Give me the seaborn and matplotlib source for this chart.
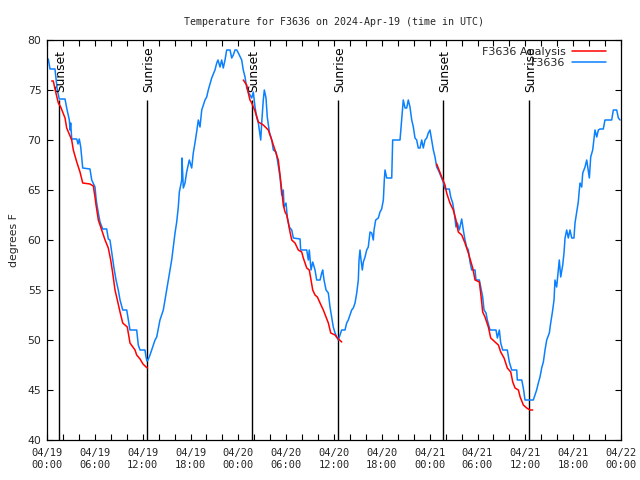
import numpy as np
import pandas as pd
import matplotlib
matplotlib.use("Agg")
import matplotlib.pyplot as plt
import matplotlib.dates as mdates
from matplotlib.lines import Line2D
import seaborn as sns

# ---------------- data (hours after 2024-04-19 00:00 UTC, degrees F) -------------
obs_hours = [0.16, 0.38, 1.00, 1.13, 1.29, 1.54, 2.26, 2.47, 2.80, 2.89, 2.97, 3.10, 3.73, 3.89,
             4.05, 4.23, 4.35, 4.48, 5.39, 5.61, 6.02, 6.15, 6.23, 6.44, 6.65, 6.99, 7.49, 7.69,
             7.90, 8.12, 8.40, 8.66, 8.94, 9.16, 9.50, 10.0, 10.2, 10.41, 11.25, 11.45, 11.67,
             12.29, 12.42, 12.54, 12.67, 12.92, 13.13, 13.55, 13.76, 14.17, 14.59, 14.80, 15.22,
             15.64, 15.84, 16.06, 16.27, 16.47, 16.60, 16.90, 16.93, 17.10, 17.31, 17.52, 17.85,
             18.15, 18.35, 18.56, 18.77, 18.98, 19.19, 19.41, 19.82, 20.03, 20.23, 20.66, 21.07,
             21.29, 21.45, 21.70, 21.91, 22.11, 22.33, 22.54, 22.96, 23.17, 23.37, 23.58, 23.80,
             24.00, 24.42, 24.62, 24.84, 25.05, 25.25, 25.68, 25.88, 26.09, 26.30, 26.51, 26.81,
             26.93, 27.13, 27.26, 27.47, 27.63, 27.89, 28.19, 28.39, 28.73, 28.94, 29.23, 29.44,
             29.64, 29.73, 29.98, 30.14, 30.39, 30.70, 30.90, 31.74, 31.82, 32.58, 32.78, 32.90,
             33.12, 33.33, 33.62, 33.83, 34.25, 34.46, 34.58, 34.75, 35.00, 35.29, 35.50, 35.71,
             35.91, 36.13, 36.34, 36.54, 36.75, 36.96, 37.38, 37.59, 37.79, 38.01, 38.22, 38.42,
             38.64, 38.85, 39.05, 39.14, 39.26, 39.39, 39.55, 39.68, 39.89, 40.10, 40.30, 40.52,
             40.73, 40.93, 41.02, 41.23, 41.56, 41.77, 41.98, 42.19, 42.31, 42.40, 42.61, 43.24,
             43.36, 44.28, 44.49, 44.69, 44.91, 45.12, 45.32, 45.53, 45.75, 45.95, 46.16, 46.37,
             46.57, 46.79, 47.00, 47.20, 47.42, 47.63, 47.83, 48.04, 48.25, 48.46, 48.67, 48.88,
             49.08, 49.51, 49.71, 49.92, 50.46, 50.64, 50.89, 51.09, 51.30, 51.47, 51.72, 52.02,
             52.22, 52.43, 52.64, 52.85, 53.06, 53.27, 53.69, 53.81, 54.23, 54.40, 54.65, 54.82,
             55.07, 55.23, 55.57, 56.32, 56.49, 56.74, 56.91, 57.16, 57.74, 57.99, 58.29, 58.92,
             58.99, 59.55, 59.75, 59.96, 61.00, 61.21, 61.42, 61.63, 61.84, 62.05, 62.26, 62.47,
             62.68, 63.01, 63.18, 63.38, 63.60, 63.72, 63.93, 64.14, 64.26, 64.44, 64.69, 64.85,
             64.98, 65.19, 65.39, 65.60, 65.82, 66.10, 66.23, 66.44, 66.64, 66.77, 66.86, 67.07,
             67.20, 67.49, 67.70, 68.03, 68.20, 68.45, 68.62, 68.74, 68.96, 69.16, 69.37, 69.78,
             69.99, 70.83, 71.04, 71.46, 71.67, 71.88]
obs_temps = [78.1, 77.1, 77.1, 76.2, 75.0, 74.1, 74.1, 73.2, 72.0, 71.0, 71.7, 70.1, 70.1, 69.6,
             70.1, 69.3, 68.3, 67.2, 67.1, 66.0, 65.3, 64.2, 63.7, 62.7, 61.8, 61.1, 61.1, 60.1,
             60.0, 58.8, 57.2, 56.0, 55.0, 54.0, 53.0, 53.0, 52.0, 51.0, 51.0, 49.5, 49.0,
             49.0, 48.3, 47.9, 48.0, 48.5, 49.0, 50.0, 50.3, 52.0, 53.0, 54.0, 56.0,
             58.0, 59.3, 60.7, 61.8, 63.3, 64.8, 66.0, 68.2, 65.2, 65.7, 66.8, 68.0,
             67.2, 68.7, 69.7, 70.8, 72.0, 71.3, 73.0, 74.0, 74.3, 75.0, 76.2, 77.0,
             77.7, 78.0, 77.3, 78.0, 77.2, 78.0, 79.0, 79.0, 78.2, 78.5, 79.0, 79.0,
             78.7, 78.0, 77.0, 76.3, 75.2, 74.8, 74.2, 74.8, 73.3, 72.3, 71.7, 70.0,
             71.7, 74.0, 75.0, 74.2, 72.3, 70.8, 70.0, 69.0, 68.8, 67.8, 66.3, 64.5,
             65.0, 63.3, 63.7, 62.3, 61.3, 61.0, 60.2, 60.1, 59.0, 59.0, 58.0, 59.0,
             57.0, 57.8, 57.0, 56.0, 56.0, 56.7, 57.0, 56.0, 55.0, 54.7, 53.3, 52.3,
             51.3, 50.7, 50.3, 50.0, 50.5, 51.0, 51.0, 51.7, 52.0, 52.5, 53.0, 53.2,
             53.7, 54.7, 56.0, 58.0, 59.0, 58.0, 57.0, 57.8, 58.3, 59.0, 59.3, 60.8,
             60.7, 60.0, 61.0, 62.0, 62.2, 62.8, 63.1, 64.0, 66.0, 67.0, 66.2, 66.2,
             70.0, 70.0, 72.0, 74.0, 73.2, 73.2, 74.0, 73.3, 72.0, 71.3, 70.2, 70.0,
             69.2, 69.2, 70.0, 69.2, 70.0, 70.2, 70.7, 71.0, 70.0, 69.0, 68.3, 67.3,
             67.0, 66.2, 65.8, 65.1, 65.1, 64.3, 63.7, 62.7, 61.3, 61.7, 61.0, 62.1,
             61.0, 60.0, 59.3, 59.0, 57.8, 57.0, 57.0, 56.0, 56.0, 55.3, 54.3, 53.0,
             52.7, 52.0, 51.0, 51.0, 50.2, 51.0, 49.7, 49.0, 49.0, 47.8, 47.0, 47.0,
             46.0, 46.0, 45.2, 44.0, 44.0, 44.5, 45.0, 45.7, 46.3, 47.2, 47.8, 49.0,
             50.0, 50.7, 51.7, 52.7, 54.0, 56.0, 55.3, 57.0, 58.0, 56.3, 57.5, 58.7,
             60.2, 61.0, 60.2, 61.0, 60.2, 60.2, 61.7, 62.8, 63.8, 65.0, 65.7, 65.3,
             66.7, 67.3, 68.0, 66.2, 68.3, 69.0, 70.2, 71.0, 70.3, 71.0, 71.1, 71.1,
             72.0, 72.0, 73.0, 73.0, 72.2, 72.0]

night1_hours = [0.59, 0.79, 1.00, 1.42, 1.72, 2.26, 2.47, 3.10, 3.30, 3.73, 4.14, 4.48, 5.39,
                5.81, 6.02, 6.15, 6.44, 6.86, 7.28, 7.69, 7.99, 8.24, 8.53, 8.82, 9.16, 9.50,
                10.07, 10.41, 11.04, 11.25, 11.67, 12.04, 12.42, 12.61]
night1_temps = [75.9, 75.9, 75.1, 73.7, 73.3, 72.2, 71.2, 70.0, 69.0, 67.8, 66.8, 65.7, 65.6,
                65.4, 64.3, 63.5, 62.0, 61.0, 60.0, 59.2, 58.0, 56.7, 55.0, 54.0, 52.8, 51.7,
                51.3, 49.7, 49.0, 48.5, 48.1, 47.6, 47.3, 47.2]
night2_hours = [24.62, 25.05, 25.25, 25.46, 25.68, 26.09, 26.51, 27.13, 27.76, 28.19, 28.60,
                29.01, 29.23, 29.44, 29.64, 29.86, 30.07, 30.27, 30.48, 30.70, 31.11, 31.52,
                31.95, 32.15, 32.58, 32.90, 33.12, 33.33, 33.62, 33.91, 34.25, 34.66, 35.00,
                35.29, 35.59, 36.13, 36.42, 36.97]
night2_temps = [76.0, 75.5, 74.7, 74.0, 73.7, 72.9, 71.8, 71.5, 71.0, 70.0, 69.0,
                68.0, 66.5, 65.0, 63.5, 62.8, 62.5, 61.7, 60.8, 60.0, 59.7, 59.0,
                58.8, 58.2, 57.2, 57.0, 56.0, 55.0, 54.5, 54.3, 53.7, 53.0, 52.3,
                51.7, 50.7, 50.5, 50.2, 49.8]
night3_hours = [48.88, 49.51, 49.92, 50.13, 50.54, 50.96, 51.30, 51.59, 52.02, 52.43, 52.85,
                53.40, 53.69, 54.23, 54.40, 54.65, 54.94, 55.36, 55.66, 56.20, 56.62, 56.91,
                57.33, 57.74, 58.17, 58.42, 58.71, 59.13, 59.35, 59.75, 60.17, 60.59, 60.92]
night3_temps = [67.6, 66.3, 65.5, 64.7, 63.7, 63.0, 62.0, 60.8, 60.5, 59.7, 58.7,
                57.2, 56.0, 55.8, 54.7, 52.8, 52.3, 51.3, 50.2, 49.8, 49.5, 48.8,
                48.2, 47.2, 46.8, 45.8, 45.2, 45.0, 44.3, 43.5, 43.2, 43.0, 43.0]

sun_labels = ["Sunset", "Sunrise", "Sunset", "Sunrise", "Sunset", "Sunrise"]
sun_hours = [1.54, 12.52, 25.68, 36.54, 49.71, 60.50]

y_ticks = [40, 45, 50, 55, 60, 65, 70, 75, 80]
title = "Temperature for F3636 on 2024-Apr-19 (time in UTC)"
ylabel = "degrees F"
series_names = ["F3636 Analysis", "F3636"]
colors = ["#ff0000", "#0a80ff"]

# ---------------- build frames ----------------
t0 = pd.Timestamp("2024-04-19 00:00")
obs = pd.DataFrame({"time": t0 + pd.to_timedelta(obs_hours, unit="h"), "temp": obs_temps})
red_parts = []
for i, (hh, tt) in enumerate([(night1_hours, night1_temps), (night2_hours, night2_temps),
                              (night3_hours, night3_temps)]):
    red_parts.append(pd.DataFrame({"time": t0 + pd.to_timedelta(hh, unit="h"),
                                   "temp": tt, "night": i}))
ana = pd.concat(red_parts, ignore_index=True)

# ---------------- plot ----------------
sns.set_style("white")
plt.rcParams["font.family"] = ["DejaVu Sans"]

fig = plt.figure(figsize=(6.4, 4.8), dpi=100)
ax = fig.add_axes([47 / 640, 40 / 480, 574 / 640, 400 / 480])

sun_times = t0 + pd.to_timedelta(sun_hours, unit="h")
ax.vlines(sun_times, 40, 74, color="black", lw=1.0, zorder=1)
for lab, st in zip(sun_labels, sun_times):
    ax.text(st + pd.Timedelta(minutes=12), 74.8, lab, rotation=90, ha="center", va="bottom",
            fontsize=8.8, family="DejaVu Sans", color="black")

sns.lineplot(data=obs, x="time", y="temp", color=colors[1], lw=1.1, ax=ax,
             estimator=None, sort=False, zorder=2)
sns.lineplot(data=ana, x="time", y="temp", units="night", estimator=None, sort=False,
             color=colors[0], lw=1.1, ax=ax, zorder=3)

ax.set_xlim(t0, t0 + pd.Timedelta(hours=72))
ax.set_ylim(40, 80)
ax.set_yticks(y_ticks)
ax.xaxis.set_major_locator(mdates.HourLocator(byhour=[0, 6, 12, 18]))
ax.xaxis.set_minor_locator(mdates.HourLocator(byhour=range(0, 24, 2)))
ax.xaxis.set_major_formatter(mdates.DateFormatter("%m/%d\n%H:%M"))
ax.tick_params(axis="both", which="both", direction="in", length=4, width=0.8,
               top=True, right=True, bottom=True, left=True, color="black")
ax.tick_params(axis="x", which="major", labelsize=7.5, pad=6)
ax.tick_params(axis="y", which="major", labelsize=7.8, pad=4)
for lab in ax.get_xticklabels():
    lab.set_family("DejaVu Sans Mono")
for sp in ax.spines.values():
    sp.set_color("black")
    sp.set_linewidth(0.9)

ax.set_xlabel("")
ax.set_ylabel(ylabel, fontsize=7.8, labelpad=6)
ax.set_title(title, fontsize=7.2, family="DejaVu Sans Mono", pad=11)

handles = [Line2D([0], [0], color=colors[0], lw=1.1), Line2D([0], [0], color=colors[1], lw=1.1)]
ax.legend(handles, series_names, loc="upper right", frameon=False, markerfirst=False,
          fontsize=8, handlelength=3.0, handletextpad=0.6, borderaxespad=0.2, labelspacing=0.15,
          bbox_to_anchor=(0.985, 1.0))

fig.savefig("out.png", dpi=100)
